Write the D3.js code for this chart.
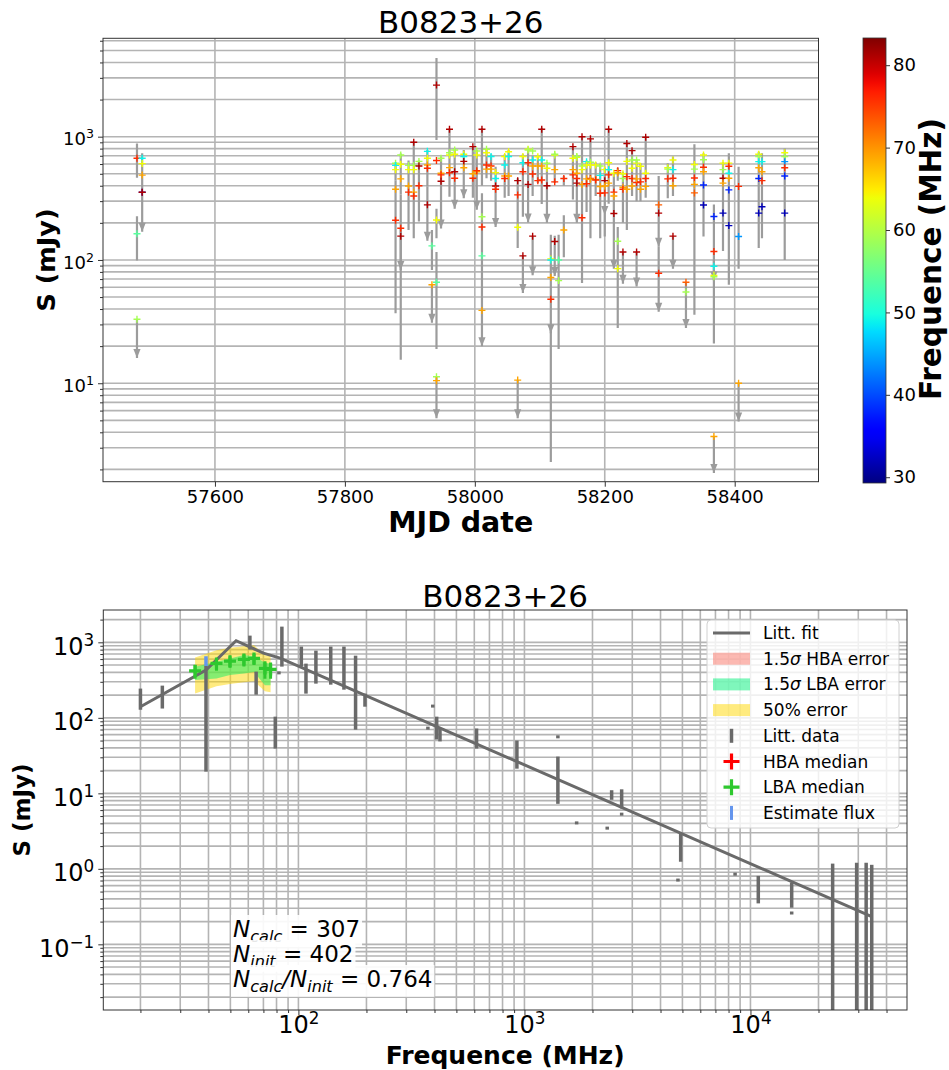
<!DOCTYPE html>
<html><head><meta charset="utf-8">
<script src="https://cdn.jsdelivr.net/npm/d3@7"></script>
<style>body{margin:0;background:#fff}svg{font-family:"DejaVu Sans",sans-serif}</style>
</head><body><svg id="c" width="949" height="1070"></svg>
<script>
// ---------------- DATA ----------------
const chartTitle = "B0823+26";
const mjdTicks = [57600, 57800, 58000, 58200, 58400];
const topFluxTicks = [10, 100, 1000];
const cbarTicks = [30, 40, 50, 60, 70, 80];
const freqTicks = [100, 1000, 10000];
const botFluxTicks = [0.1, 1, 10, 100, 1000];

// observation dates (MJD), per date: points [freq MHz, flux mJy], error bars [high, low, arrow]
const obsMJD = [57480,57488,57878,57886,57898,57906,57914,57927,57934,57941,57948,57961,57969,57983,57997,58003,58011,58018,58025,58032,58046,58052,58066,58074,58082,58089,58097,58103,58111,58117,58123,58129,58137,58151,58157,58165,58172,58178,58186,58193,58200,58206,58214,58220,58228,58234,58242,58249,58255,58263,58283,58297,58305,58325,58338,58352,58368,58382,58391,58406,58437,58442,58477];
const obsPts = [
 [[76,668],[54,163],[59,33]],
 [[49,668],[64,605],[69,488],[32,354],[81,354]],
 [[59,609],[49,585],[64,540],[69,375],[76,210]],
 [[59,710],[64,597],[69,455],[76,181],[81,156]],
 [[59,585],[64,540],[69,398],[76,355]],
 [[81,900],[59,585],[64,540],[69,355],[76,330]],
 [[59,630],[81,578],[76,400]],
 [[49,760],[64,668],[69,590],[76,555],[81,280]],
 [[54,130],[69,63]],
 [[81,2620],[76,640],[64,211],[54,66],[59,11.3],[69,10.5]],
 [[59,668],[69,505],[76,490],[81,435]],
 [[81,1150],[64,710],[59,740],[69,561],[76,510]],
 [[59,780],[64,720],[81,520],[76,460]],
 [[64,720],[49,690],[81,630],[69,560]],
 [[81,830],[76,460],[69,500]],
 [[59,765],[64,710],[69,520],[76,530]],
 [[81,1150],[59,224],[76,185],[54,108],[69,39]],
 [[59,790],[64,740],[69,545],[76,590]],
 [[49,690],[76,578],[69,545]],
 [[64,511],[49,458],[81,398],[76,375]],
 [[64,690],[49,590],[69,480],[76,458]],
 [[64,755],[49,690],[69,480]],
 [[81,440],[76,337],[64,184],[69,10.6]],
 [[64,690],[49,615],[76,520],[81,108]],
 [[64,790],[59,780],[76,615],[81,410]],
 [[81,156],[59,765],[49,647],[69,578],[76,498]],
 [[64,688],[69,578],[76,440]],
 [[81,1150],[49,647],[69,578],[76,445]],
 [[59,609],[64,555],[81,400]],
 [[64,102],[49,100],[69,72],[76,48]],
 [[81,141],[64,710],[59,720],[76,430],[69,540]],
 [[54,100],[59,68]],
 [[69,175],[76,458]],
 [[81,830],[64,668],[69,540],[76,490]],
 [[64,680],[59,690],[69,505],[76,458],[81,420]],
 [[81,1000],[59,578],[64,540],[69,410],[76,220]],
 [[49,627],[64,590],[69,455],[76,415]],
 [[81,960],[59,620],[64,590],[76,458],[69,452]],
 [[64,590],[69,450],[76,445]],
 [[59,578],[49,485],[69,394],[76,348]],
 [[64,540],[81,440],[76,350],[69,398]],
 [[81,1150],[64,615],[49,540],[76,490],[69,420]],
 [[64,505],[76,355],[69,330],[81,238]],
 [[59,142],[64,85],[76,530],[69,510]],
 [[64,500],[59,458],[69,389],[76,375],[81,116]],
 [[81,880],[64,630],[76,474],[69,375]],
 [[81,770],[59,647],[64,555],[76,458],[69,398]],
 [[64,610],[59,647],[76,425],[81,116],[69,455]],
 [[64,575],[76,430],[69,375]],
 [[81,990],[64,505],[76,458],[69,395]],
 [[73,280],[81,240],[76,78]],
 [[64,560],[59,545],[76,455]],
 [[64,647],[49,540],[76,460],[69,400],[81,156]],
 [[73,66],[59,55]],
 [[64,595],[59,545],[76,462],[69,410],[73,350]],
 [[64,710],[59,650],[76,565],[69,520],[38,405],[32,279]],
 [[38,225],[76,117],[49,89],[64,75],[59,73],[69,3.7]],
 [[64,610],[59,540],[81,460],[69,420],[32,240]],
 [[64,610],[76,575],[49,505],[69,460],[38,370],[32,190]],
 [[76,395],[44,155],[69,10]],
 [[64,720],[59,690],[49,627],[69,560],[38,458],[32,240]],
 [[49,627],[69,520],[76,440],[32,270]],
 [[64,740],[59,690],[44,627],[76,560],[38,480],[32,240]]
];
const obsErr = [
 [[880,465,0],[226,99,0],[33,16,1]],
 [[733,169,1]],
 [[440,37,0],[620,440,0]],
 [[730,340,0],[340,15.5,0],[181,83,1]],
 [[640,175,0]],
 [[900,150,0]],
 [[640,205,0]],
 [[780,395,0],[395,143,1]],
 [[175,83,0],[63,31,1]],
 [[4350,940,0],[260,150,0],[116,19,0],[11.3,5.2,1]],
 [[690,180,1]],
 [[1160,325,0]],
 [[800,260,1]],
 [[780,316,1]],
 [[840,320,0]],
 [[780,255,1]],
 [[1170,560,0],[790,400,0],[348,20,1]],
 [[790,460,0]],
 [[720,440,0]],
 [[570,185,1]],
 [[720,320,0]],
 [[780,330,0]],
 [[460,125,0],[10.6,5.2,1]],
 [[720,224,0],[108,54,1]],
 [[800,201,1]],
 [[700,330,0],[156,75,1]],
 [[700,420,0]],
 [[1180,285,0]],
 [[620,200,1]],
 [[160,2.3,0],[30,25.4,1]],
 [[730,420,0],[157,74,1]],
 [[160,19,0]],
 [[230,105,0],[480,400,0]],
 [[840,310,0]],
 [[700,200,1]],
 [[1000,65,0]],
 [[640,245,0]],
 [[970,150,0]],
 [[620,330,0]],
 [[600,150,0]],
 [[560,232,1],[232,155,0]],
 [[1170,286,0]],
 [[505,85,1]],
 [[185,28,0],[560,440,0]],
 [[520,200,0],[116,64,1]],
 [[880,175,0]],
 [[790,330,0]],
 [[650,300,0],[116,61,1]],
 [[610,300,0]],
 [[1000,320,0]],
 [[480,128,1],[128,38,1]],
 [[609,316,0]],
 [[690,330,0],[156,85,1]],
 [[66,28,1]],
 [[870,36,0]],
 [[735,155,0]],
 [[282,21,0],[100,68,1],[3.7,1.87,1]],
 [[620,118,0]],
 [[735,63,0]],
 [[570,85,0],[10,4.9,1]],
 [[755,125,0]],
 [[735,150,0]],
 [[800,100,0]]
];

// spectrum panel
const fitFreq = [20, 39, 53, 70, 83, 34400];
const fitFlux = [140, 428, 1050, 720, 618, 0.233];
const lbaFreq = [34.9, 43.4, 49.8, 57.4, 63.6, 71.1, 75.3];
const lbaMedian = [419, 525, 563, 593, 612, 451, 437];
const lbaErrLo = [330, 420, 460, 480, 500, 330, 330];
const lbaErrHi = [500, 610, 650, 690, 700, 560, 540];
const lbaBandLo = [316, 333, 368, 387, 406, 271, 271];
const lbaBandHi = [473, 552, 612, 677, 656, 535, 525];
const estFreq = [39], estLo = [484], estHi = [655];
const littFreq = [20,25,39,61,65,79,82,84.5,103,108,119.5,139,159,179,197,374,393,409,423,614,926,1406,1406,1702,2324,2431,2692,2692,4912,4778,8550,10830,15220,15220,23100,29500,32500,34400];
const littLo   = [134,139,20.3,838,212,41,394,499,499,219,297,288,247,73,147,73,143,54,51,41,22.2,56,7.6,4.06,3.46,8.6,6.6,5.3,1.30,0.71,0.85,0.365,0.32,0.26,0,0,0,0];
const littHi   = [233,255,470,1172,391,99,394,1542,838,499,741,838,838,636,200,73,143,99,69,69,47.7,56,29.3,4.06,3.46,10.5,10.8,5.3,2.79,0.71,0.85,0.77,0.63,0.26,1.12,1.15,1.15,1.08];
const nCalc = 307, nInit = 402;
const legendLabels = ["Litt. fit","1.5σ HBA error","1.5σ LBA error","50% error","Litt. data","HBA median","LBA median","Estimate flux"];

// ---------------- DRAWING ----------------
const svg = d3.select("#c");
const GRID = "#b4b4b4", GRAY = "#6a6a6a", ERR = "#9c9c9c";

function jet(v){
  const t = Math.max(0, Math.min(1, (v - 29.3) / (83.3 - 29.3)));
  const r = d3.scaleLinear().domain([0,0.35,0.66,0.89,1]).range([0,0,1,1,0.5]).clamp(true)(t);
  const g = d3.scaleLinear().domain([0,0.125,0.375,0.64,0.91,1]).range([0,0,1,1,0,0]).clamp(true)(t);
  const b = d3.scaleLinear().domain([0,0.11,0.34,0.65,1]).range([0.5,1,1,0,0]).clamp(true)(t);
  return d3.rgb(r*255, g*255, b*255).toString();
}
function logMinors(lo, hi){
  const out=[];
  for(let e=-3;e<=5;e++) for(let k=1;k<10;k++){
    const v=+(k*Math.pow(10,e)).toPrecision(3);
    if(v>lo*1.0001 && v<hi/1.0001) out.push(v);
  }
  return out;
}
function supText(sel, v){
  const e = Math.round(Math.log10(v));
  sel.text("");
  sel.append("tspan").text("10");
  sel.append("tspan").attr("dy","-0.55em").attr("font-size","0.7em").text(e<0 ? "\u2212"+(-e) : String(e));
}

// ===== TOP PANEL =====
const P1 = {l:103, r:818.5, t:38.3, b:481.7};
const x1 = d3.scaleLinear().domain([57427.7, 58529]).range([P1.l, P1.r]);
const y1 = d3.scaleLog().domain([1.59, 6280]).range([P1.b, P1.t]);
const defs = svg.append("defs");
defs.append("clipPath").attr("id","clip1").append("rect").attr("x",P1.l).attr("y",P1.t).attr("width",P1.r-P1.l).attr("height",P1.b-P1.t);

const g1 = svg.append("g");
const grid1 = g1.append("g").attr("clip-path","url(#clip1)");
grid1.selectAll("line.h").data(logMinors(1.59,6280)).join("line")
  .attr("x1",P1.l).attr("x2",P1.r).attr("y1",d=>y1(d)).attr("y2",d=>y1(d))
  .attr("stroke",GRID).attr("stroke-width",1.6);
grid1.selectAll("line.v").data(mjdTicks).join("line")
  .attr("y1",P1.t).attr("y2",P1.b).attr("x1",d=>x1(d)).attr("x2",d=>x1(d))
  .attr("stroke",GRID).attr("stroke-width",1.6);

const data1 = g1.append("g").attr("clip-path","url(#clip1)");
obsMJD.forEach((m,i)=>{
  const x = x1(m);
  obsErr[i].forEach(([hi,lo,arr])=>{
    data1.append("line").attr("x1",x).attr("x2",x).attr("y1",y1(hi)).attr("y2",y1(lo))
      .attr("stroke",ERR).attr("stroke-width",2.2);
    if(arr){
      const y=y1(lo);
      data1.append("path").attr("d",`M${x-3.6},${y-9}L${x+3.6},${y-9}L${x},${y}Z`).attr("fill",ERR);
    }
  });
});
obsMJD.forEach((m,i)=>{
  const x = x1(m);
  obsPts[i].forEach(([f,s])=>{
    const y=y1(s);
    data1.append("path").attr("d",`M${x-3.5},${y}H${x+3.5}M${x},${y-3.5}V${y+3.5}`)
      .attr("stroke",jet(f)).attr("stroke-width",1.4);
  });
});

// axes top
const ax1 = g1.append("g").attr("transform",`translate(0,${P1.b})`)
  .call(d3.axisBottom(x1).tickValues(mjdTicks).tickSize(5).tickPadding(4).tickFormat(d3.format("d")));
ax1.select(".domain").remove();
ax1.selectAll("text").attr("font-size",18).attr("font-family","DejaVu Sans").attr("fill","#000");
ax1.selectAll("line").attr("stroke","#333");
const ay1m = g1.append("g").attr("transform",`translate(${P1.l},0)`)
  .call(d3.axisLeft(y1).tickValues(logMinors(1.59,6280).filter(v=>!topFluxTicks.includes(v))).tickSize(3).tickFormat(""));
ay1m.select(".domain").remove(); ay1m.selectAll("line").attr("stroke","#333");
const ay1 = g1.append("g").attr("transform",`translate(${P1.l},0)`)
  .call(d3.axisLeft(y1).tickValues(topFluxTicks).tickSize(5).tickPadding(4));
ay1.select(".domain").remove(); ay1.selectAll("line").attr("stroke","#333");
ay1.selectAll("text").attr("font-size",18).attr("font-family","DejaVu Sans").attr("fill","#000").attr("dy","0.45em")
  .each(function(d){ supText(d3.select(this), d); });
g1.append("rect").attr("x",P1.l).attr("y",P1.t).attr("width",P1.r-P1.l).attr("height",P1.b-P1.t)
  .attr("fill","none").attr("stroke","#333").attr("stroke-width",1);

svg.append("text").attr("x",(P1.l+P1.r)/2).attr("y",33).attr("text-anchor","middle")
  .attr("font-size",31).text(chartTitle);
svg.append("text").attr("x",(P1.l+P1.r)/2).attr("y",532).attr("text-anchor","middle")
  .attr("font-size",28.5).attr("font-weight","bold").text("MJD date");
svg.append("text").attr("transform",`translate(55,${(P1.t+P1.b)/2}) rotate(-90)`).attr("text-anchor","middle")
  .attr("font-size",25.5).attr("font-weight","bold").text("S (mJy)");

// colorbar
const CB = {x:863, w:23, t:38, b:483};
const cs = d3.scaleLinear().domain([29.3, 83.3]).range([CB.b, CB.t]);
const grad = defs.append("linearGradient").attr("id","jetg").attr("x1",0).attr("y1",1).attr("x2",0).attr("y2",0);
d3.range(0,1.0001,0.02).forEach(t=>{
  grad.append("stop").attr("offset",t).attr("stop-color",jet(29.3 + t*(83.3-29.3)));
});
svg.append("rect").attr("x",CB.x).attr("y",CB.t).attr("width",CB.w).attr("height",CB.b-CB.t)
  .attr("fill","url(#jetg)").attr("stroke","#333").attr("stroke-width",0.8);
const acb = svg.append("g").attr("transform",`translate(${CB.x+CB.w},0)`)
  .call(d3.axisRight(cs).tickValues(cbarTicks).tickSize(4).tickPadding(3));
acb.select(".domain").remove(); acb.selectAll("line").attr("stroke","#333");
acb.selectAll("text").attr("font-size",18).attr("font-family","DejaVu Sans").attr("fill","#000");
svg.append("text").attr("transform",`translate(941,259) rotate(-90)`).attr("text-anchor","middle")
  .attr("font-size",29.5).attr("font-weight","bold").text("Frequence (MHz)");

// ===== BOTTOM PANEL =====
const P2 = {l:103.3, r:907, t:610, b:1010};
const x2 = d3.scaleLog().domain([13.7, 49270]).range([P2.l, P2.r]);
const y2 = d3.scaleLog().domain([0.0135, 2680]).range([P2.b, P2.t]);
defs.append("clipPath").attr("id","clip2").append("rect").attr("x",P2.l).attr("y",P2.t).attr("width",P2.r-P2.l).attr("height",P2.b-P2.t);
const g2 = svg.append("g");
const grid2 = g2.append("g").attr("clip-path","url(#clip2)");
grid2.selectAll("line.h").data(logMinors(0.0135,2680)).join("line")
  .attr("x1",P2.l).attr("x2",P2.r).attr("y1",d=>y2(d)).attr("y2",d=>y2(d))
  .attr("stroke",GRID).attr("stroke-width",1.6);
grid2.selectAll("line.v").data(logMinors(13.7,49270)).join("line")
  .attr("y1",P2.t).attr("y2",P2.b).attr("x1",d=>x2(d)).attr("x2",d=>x2(d))
  .attr("stroke",GRID).attr("stroke-width",1.6);

const d2 = g2.append("g").attr("clip-path","url(#clip2)");
const idx = d3.range(lbaFreq.length);
// 50% error band
d2.append("path").datum(idx).attr("fill","gold").attr("fill-opacity",0.5)
  .attr("d", d3.area().x(i=>x2(lbaFreq[i])).y0(i=>y2(lbaMedian[i]*0.5)).y1(i=>y2(lbaMedian[i]*1.5)));
// LBA 1.5 sigma band
d2.append("path").datum(idx).attr("fill","#22ee66").attr("fill-opacity",0.55)
  .attr("d", d3.area().x(i=>x2(lbaFreq[i])).y0(i=>y2(lbaBandLo[i])).y1(i=>y2(lbaBandHi[i])));
// fit line
d2.append("path").datum(d3.range(fitFreq.length)).attr("fill","none").attr("stroke",GRAY).attr("stroke-width",3)
  .attr("d", d3.line().x(i=>x2(fitFreq[i])).y(i=>y2(fitFlux[i])));
// literature data
littFreq.forEach((f,i)=>{
  const x=x2(f);
  const yl = littLo[i] > 0 ? y2(littLo[i]) : P2.b + 5;
  const yh = y2(littHi[i]);
  d2.append("rect").attr("x",x-1.75).attr("width",3.5)
    .attr("y",yh-1.5).attr("height",Math.max(3, yl-yh+3)).attr("fill",GRAY);
});
// LBA medians
lbaFreq.forEach((f,i)=>{
  const x=x2(f), y=y2(lbaMedian[i]);
  d2.append("line").attr("x1",x).attr("x2",x).attr("y1",y2(lbaErrHi[i])).attr("y2",y2(lbaErrLo[i]))
    .attr("stroke","#2ec82e").attr("stroke-width",3);
  d2.append("path").attr("d",`M${x-6},${y}H${x+6}M${x},${y-6}V${y+6}`).attr("stroke","#2ec82e").attr("stroke-width",3.2);
});
// estimate flux
estFreq.forEach((f,i)=>{
  d2.append("line").attr("x1",x2(f)).attr("x2",x2(f)).attr("y1",y2(estHi[i])).attr("y2",y2(estLo[i]))
    .attr("stroke","cornflowerblue").attr("stroke-width",3.5);
});

// axes bottom
const ax2m = g2.append("g").attr("transform",`translate(0,${P2.b})`)
  .call(d3.axisBottom(x2).tickValues(logMinors(13.7,49270).filter(v=>!freqTicks.includes(v))).tickSize(3).tickFormat(""));
ax2m.select(".domain").remove(); ax2m.selectAll("line").attr("stroke","#333");
const ax2 = g2.append("g").attr("transform",`translate(0,${P2.b})`)
  .call(d3.axisBottom(x2).tickValues(freqTicks).tickSize(5).tickPadding(3));
ax2.select(".domain").remove(); ax2.selectAll("line").attr("stroke","#333");
ax2.selectAll("text").attr("font-size",24).attr("font-family","DejaVu Sans").attr("fill","#000").attr("dy","0.64em")
  .each(function(d){ supText(d3.select(this), d); });
const ay2m = g2.append("g").attr("transform",`translate(${P2.l},0)`)
  .call(d3.axisLeft(y2).tickValues(logMinors(0.0135,2680).filter(v=>!botFluxTicks.includes(v))).tickSize(3).tickFormat(""));
ay2m.select(".domain").remove(); ay2m.selectAll("line").attr("stroke","#333");
const ay2 = g2.append("g").attr("transform",`translate(${P2.l},0)`)
  .call(d3.axisLeft(y2).tickValues(botFluxTicks).tickSize(5).tickPadding(4));
ay2.select(".domain").remove(); ay2.selectAll("line").attr("stroke","#333");
ay2.selectAll("text").attr("font-size",24).attr("font-family","DejaVu Sans").attr("fill","#000").attr("dy","0.5em")
  .each(function(d){ supText(d3.select(this), d); });
g2.append("rect").attr("x",P2.l).attr("y",P2.t).attr("width",P2.r-P2.l).attr("height",P2.b-P2.t)
  .attr("fill","none").attr("stroke","#333").attr("stroke-width",1);

svg.append("text").attr("x",(P2.l+P2.r)/2).attr("y",607).attr("text-anchor","middle")
  .attr("font-size",31).text(chartTitle);
svg.append("text").attr("x",(P2.l+P2.r)/2).attr("y",1064).attr("text-anchor","middle")
  .attr("font-size",25).attr("font-weight","bold").text("Frequence (MHz)");
svg.append("text").attr("transform",`translate(30,${(P2.t+P2.b)/2}) rotate(-90)`).attr("text-anchor","middle")
  .attr("font-size",23).attr("font-weight","bold").text("S (mJy)");

// annotation
const annLines = [
  [["N","i"],["calc","sub"],[" = "+nCalc,"n"]],
  [["N","i"],["init","sub"],[" = "+nInit,"n"]],
  [["N","i"],["calc","sub"],["/","i"],["N","i"],["init","sub"],[" = "+(nCalc/nInit).toFixed(3),"n"]]
];
annLines.forEach((segs,li)=>{
  const gy = 937 + li*25;
  const gl = svg.append("g");
  const t = gl.append("text").attr("x",233).attr("y",gy).attr("font-size",23);
  let sub=false;
  segs.forEach(([s,k])=>{
    const ts = t.append("tspan").text(s);
    if(k==="sub"){ ts.attr("font-size","0.7em").attr("font-style","italic").attr("dy","0.3em"); sub=true; }
    else { if(sub){ ts.attr("dy","-0.21em"); sub=false; } if(k==="i") ts.attr("font-style","italic"); }
  });
  const bb = t.node().getBBox();
  gl.insert("rect","text").attr("x",bb.x-2).attr("y",bb.y-1).attr("width",bb.width+4).attr("height",bb.height+2)
    .attr("fill","#fff").attr("fill-opacity",0.9);
});

// legend
const L = {x:707, y:620, w:192, h:208};
const lg = svg.append("g");
lg.append("rect").attr("x",L.x).attr("y",L.y).attr("width",L.w).attr("height",L.h).attr("rx",4)
  .attr("fill","#fff").attr("fill-opacity",0.8).attr("stroke","#d0d0d0");
const rowY = i => 633 + i*25.7;
legendLabels.forEach((lab,i)=>{
  const y=rowY(i), hx=713, hw=37, cx=hx+hw/2;
  if(i===0) lg.append("line").attr("x1",hx).attr("x2",hx+hw).attr("y1",y).attr("y2",y).attr("stroke",GRAY).attr("stroke-width",3);
  if(i===1) lg.append("rect").attr("x",hx).attr("y",y-6).attr("width",hw).attr("height",12).attr("fill","salmon").attr("fill-opacity",0.55);
  if(i===2) lg.append("rect").attr("x",hx).attr("y",y-6).attr("width",hw).attr("height",12).attr("fill","#00f07a").attr("fill-opacity",0.5);
  if(i===3) lg.append("rect").attr("x",hx).attr("y",y-6).attr("width",hw).attr("height",12).attr("fill","gold").attr("fill-opacity",0.5);
  if(i===4) lg.append("line").attr("x1",cx).attr("x2",cx).attr("y1",y-7).attr("y2",y+7).attr("stroke",GRAY).attr("stroke-width",3.5);
  if(i===5) lg.append("path").attr("d",`M${cx-8},${y}H${cx+8}M${cx},${y-8}V${y+8}`).attr("stroke","red").attr("stroke-width",3.2);
  if(i===6) lg.append("path").attr("d",`M${cx-8},${y}H${cx+8}M${cx},${y-8}V${y+8}`).attr("stroke","#2ec82e").attr("stroke-width",3.2);
  if(i===7) lg.append("line").attr("x1",cx).attr("x2",cx).attr("y1",y-7).attr("y2",y+7).attr("stroke","cornflowerblue").attr("stroke-width",3);
  const t = lg.append("text").attr("x",763).attr("y",y+6).attr("font-size",17);
  lab.split(/(σ)/).forEach(p=>{ if(!p) return; const ts=t.append("tspan").text(p); if(p==="σ") ts.attr("font-style","italic"); });
});
</script></body></html>
